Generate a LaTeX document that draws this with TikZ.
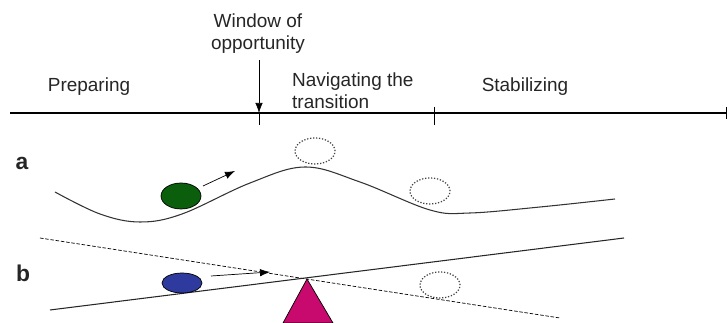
\documentclass[tikz,border=0pt]{standalone}
\usepackage{fontspec}
\setmainfont{Liberation Sans}
\usetikzlibrary{arrows.meta, calc, shapes.geometric, positioning}
\definecolor{ballg}{HTML}{0b5e0b}
\definecolor{ballb}{HTML}{2e3a9e}
\definecolor{pivot}{HTML}{c8096e}

\begin{document}
\begin{tikzpicture}[x=0.02cm, y=-0.02cm, >={Latex[length=2mm, width=1.5mm]},
                label/.style={text=black!85, font=\fontsize{10.8}{12.5}\selectfont},
                ball/.style={ellipse, draw, thin, minimum width=0.8cm, minimum height=0.52cm, inner sep=0pt},
                ghost/.style={ellipse, draw=black!75, line width=0.7pt, dash pattern=on 0.7pt off 1pt, minimum width=0.8cm, minimum height=0.52cm, inner sep=0pt}]
            \useasboundingbox (0,0) rectangle (727,323);
            % time line with its phases
            \coordinate (t0) at (10,113);
            \coordinate (t1) at (727,113);
            \coordinate (w) at (259,113);
            \coordinate (s) at (434,113);
            \draw[line width=1pt] (t0) -- (t1);
            \draw[thin] (s) ++(0,-6) -- ++(0,18);
            \draw[thin] (t1) ++(-1,-6) -- ++(0,12);
            \node[label, align=center] (win) at (258,34) {Window of\\opportunity};
            \draw[thin, ->] (win.south -| w) -- (w);
            \draw[thin] (w) -- ++(0,12);
            \node[label] (prep) at (89,87) {Preparing};
            \node[label, align=left, anchor=west] (nav) at (286,91) {Navigating the\\transition};
            \node[label] (stab) at (525,87) {Stabilizing};
            % a: ball in a valley
            \node[font=\fontsize{13}{13}\selectfont\bfseries, text=black!85] (la) at (22,163) {a};
            \draw[line width=0.6pt, black!80] plot[smooth, tension=0.6] coordinates {(55,192) (100,214) (140,222) (182,214) (250,183) (305,167) (360,182) (430,210) (470,213) (540,207) (615,199)};
            \node[ball, fill=ballg] (ga) at (181,196) {};
            \node[ghost] (ga1) at (315,151) {};
            \node[ghost] (ga2) at (430,191) {};
            \coordinate (pa) at (203,186);
            \coordinate (qa) at (235,171);
            \draw[thin, ->] (pa) -- (qa);
            % b: ball on a tipping plank
            \node[font=\fontsize{13}{13}\selectfont\bfseries, text=black!85] (lb) at (23,273) {b};
            \coordinate (d0) at (40,238);
            \coordinate (d1) at (560,318);
            \coordinate (p0) at (50,310);
            \coordinate (p1) at (624,238);
            \draw[thin, dash pattern=on 2pt off 1pt] (d0) -- (d1);
            \draw[line width=0.6pt, black!85] (p0) -- (p1);
            \coordinate (apex) at (307,279);
            \draw[thin, fill=pivot] (apex) -- (283,323) -- (333,323) -- cycle;
            \node[ball, fill=ballb, minimum height=0.4cm] (gb) at (182,283) {};
            \node[ghost] (gb1) at (440,285) {};
            \coordinate (pb) at (211,276);
            \coordinate (qb) at (270,272);
            \draw[thin, ->] (pb) -- (qb);
        \end{tikzpicture}
\end{document}
